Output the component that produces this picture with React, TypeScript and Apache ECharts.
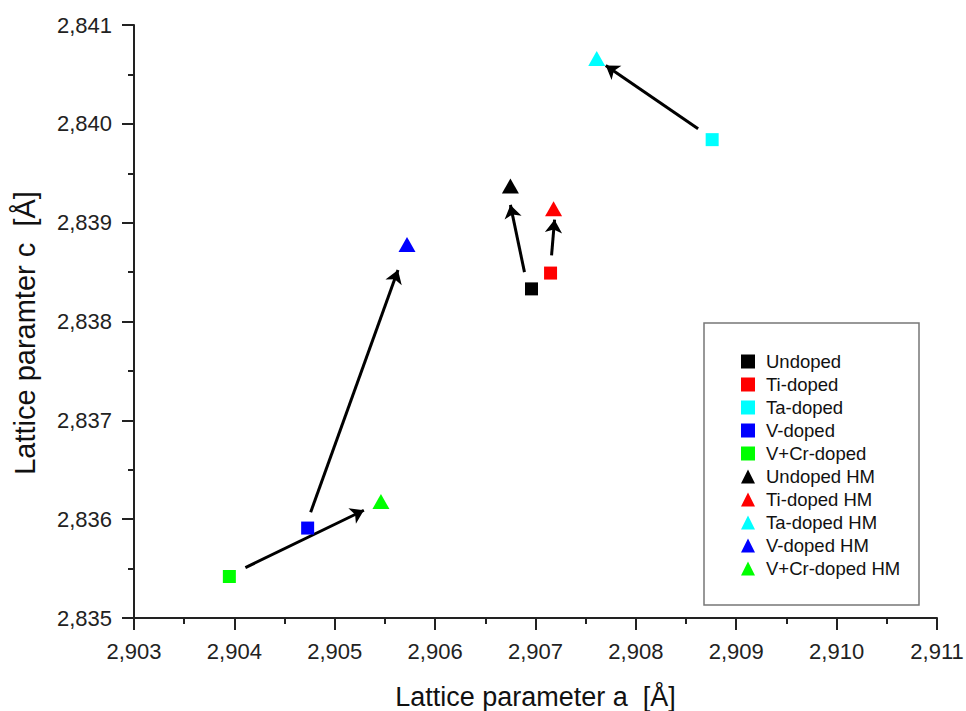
import React, { useEffect, useRef } from "react";
import * as echarts from "echarts";

const sampleNames = ["Undoped", "Ti-doped", "Ta-doped", "V-doped", "V+Cr-doped"];
const sampleColors = ["#000000", "#ff0000", "#00ffff", "#0000ff", "#00ff00"];
// lattice parameter a and c of as-prepared samples (squares)
const aDoped = [2.90696, 2.90715, 2.90876, 2.90473, 2.90395];
const cDoped = [2.83833, 2.83849, 2.83984, 2.83591, 2.83542];
// after HM (triangles)
const aHM = [2.90675, 2.90718, 2.90761, 2.90572, 2.90546];
const cHM = [2.83937, 2.83914, 2.84066, 2.83878, 2.83618];
// arrows: from (a, c) to (a, c)
const arrowFromA = [2.90689, 2.90716, 2.90862, 2.90476, 2.90411];
const arrowFromC = [2.8385, 2.83867, 2.83995, 2.83607, 2.83551];
const arrowToA = [2.90675, 2.90719, 2.9077, 2.90563, 2.90529];
const arrowToC = [2.83918, 2.83903, 2.84059, 2.83852, 2.83609];

const xMin = 2.903, xMax = 2.911, xStep = 0.001;
const yMin = 2.835, yMax = 2.841, yStep = 0.001;

const fmt = (v: number) => v.toFixed(3).replace(".", ",");

export default function App() {
  const ref = useRef<HTMLDivElement>(null);
  useEffect(() => {
    const chart = echarts.init(ref.current!, null, { renderer: "svg" });
    const font = "Liberation Sans, Arial, sans-serif";
    const squares = sampleNames.map((n, i) => ({
      name: n,
      type: "scatter",
      symbol: "rect",
      symbolSize: 13,
      itemStyle: { color: sampleColors[i], opacity: 1 },
      data: [[aDoped[i], cDoped[i]]],
      z: 3,
    }));
    const tris = sampleNames.map((n, i) => ({
      name: n + " HM",
      type: "scatter",
      symbol: "triangle",
      symbolSize: [17, 15],
      itemStyle: { color: sampleColors[i], opacity: 1 },
      data: [[aHM[i], cHM[i]]],
      z: 3,
    }));
    const arrows = {
      type: "lines",
      coordinateSystem: "cartesian2d",
      symbol: ["none", "arrow"],
      symbolSize: 13,
      lineStyle: { color: "#000", width: 3, opacity: 1 },
      data: arrowFromA.map((a, i) => ({
        coords: [
          [a, arrowFromC[i]],
          [arrowToA[i], arrowToC[i]],
        ],
      })),
      z: 2,
    };
    const axisCommon = {
      axisLine: { show: true, lineStyle: { color: "#222", width: 2 } },
      axisTick: { show: true, inside: false, length: 12, lineStyle: { color: "#222", width: 2 } },
      minorTick: { show: true, splitNumber: 2, length: 6, lineStyle: { color: "#222", width: 2 } },
      splitLine: { show: false },
      minorSplitLine: { show: false },
      axisLabel: { fontSize: 22, color: "#222", fontFamily: font, margin: 22, formatter: fmt },
    };
    chart.setOption({
      animation: false,
      backgroundColor: "#fff",
      grid: { left: 134, right: 29, top: 25, bottom: 93, containLabel: false, outerBoundsMode: "none" },
      xAxis: {
        type: "value",
        min: xMin,
        max: xMax,
        interval: xStep,
        ...axisCommon,
        name: "Lattice parameter a  [Å]",
        nameLocation: "middle",
        nameGap: 65,
        nameTextStyle: { fontSize: 27, color: "#111", fontFamily: font },
      },
      yAxis: {
        type: "value",
        min: yMin,
        max: yMax,
        interval: yStep,
        ...axisCommon,
      },
      legend: {
        orient: "vertical",
        left: 736,
        top: 347,
        itemWidth: 14,
        itemHeight: 14,
        itemGap: 4,
        textStyle: { fontSize: 18.5, color: "#111", fontFamily: font, lineHeight: 18.5, padding: [0, 0, 0, 6] },
        data: [...squares.map((s) => s.name), ...tris.map((t) => t.name)],
      },
      graphic: [
        {
          type: "rect",
          shape: { x: 704, y: 323, width: 215, height: 282 },
          style: { fill: "none", stroke: "#777", lineWidth: 1.5 },
          z: 0,
        },
        {
          type: "text",
          x: 25,
          y: 333,
          rotation: Math.PI / 2,
          style: {
            text: "Lattice paramter c  [Å]",
            fontSize: 29,
            fontFamily: font,
            fill: "#111",
            textAlign: "center",
            textVerticalAlign: "middle",
          },
        },
      ],
      series: [arrows, ...squares, ...tris],
    });
    return () => chart.dispose();
  }, []);
  return <div ref={ref} style={{ width: 966, height: 711, position: "absolute", left: 0, top: 0 }} />;
}
